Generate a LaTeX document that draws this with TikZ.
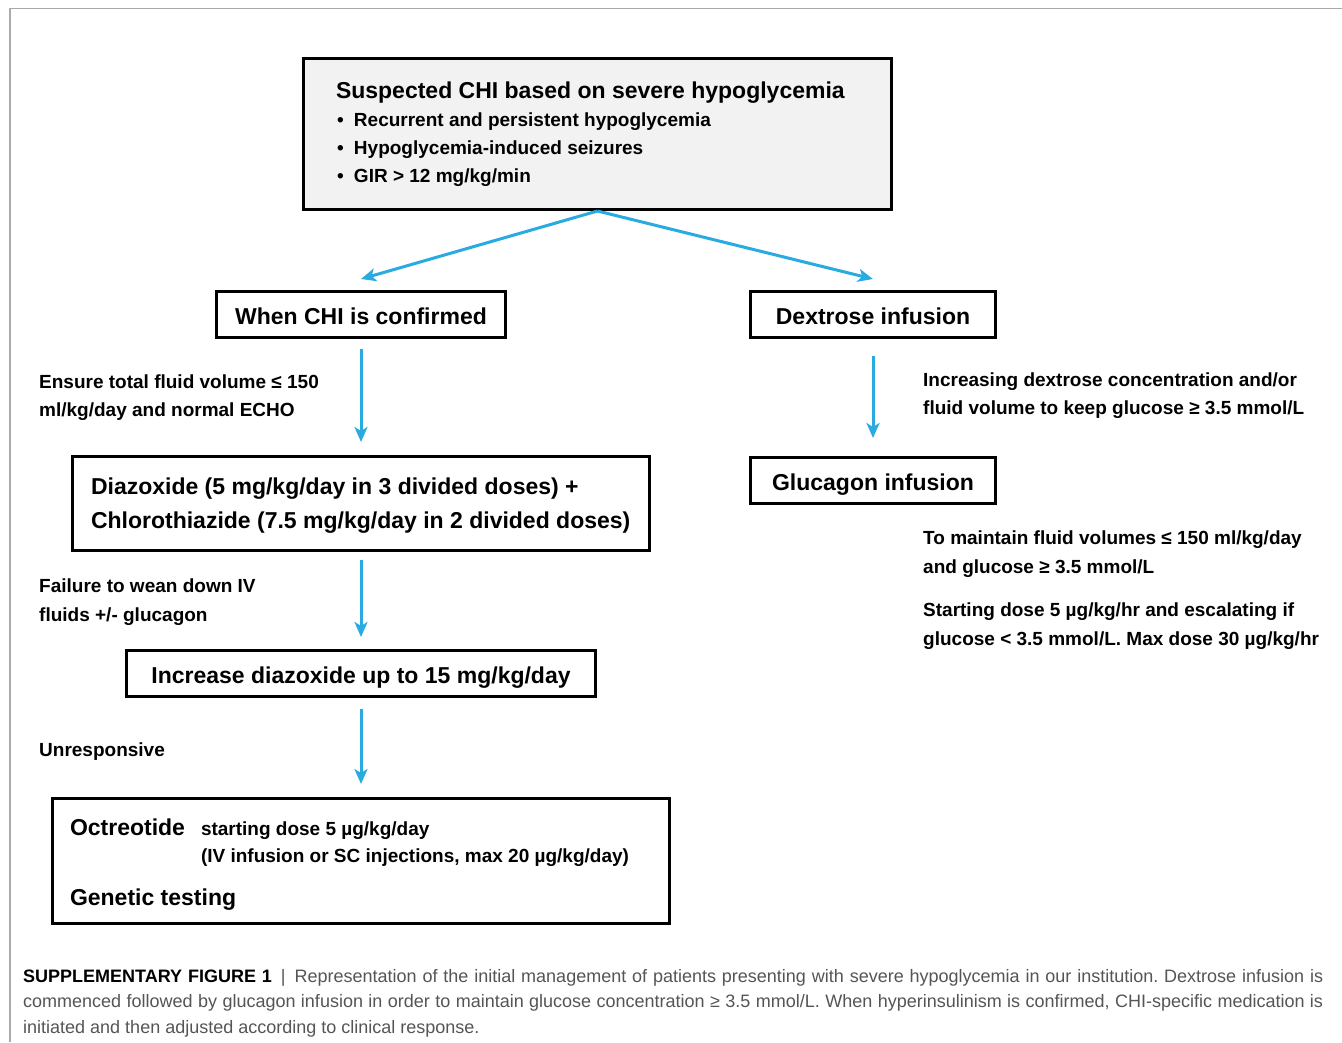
\documentclass[tikz,border=0pt]{standalone}
\usepackage{fontspec}
\setmainfont{Liberation Sans}
\usetikzlibrary{arrows.meta}
\definecolor{arrowblue}{RGB}{41,171,226}
\definecolor{framegray}{RGB}{170,170,170}
\definecolor{capgray}{RGB}{85,85,85}
\definecolor{topfill}{RGB}{242,242,242}
\newcommand\fTitle{\fontsize{23}{27}\selectfont\bfseries}
\newcommand\fLab{\fontsize{19}{23}\selectfont\bfseries}
\newcommand\fCap{\fontsize{18}{25.5}\selectfont}
\newcommand\bul{\makebox[18pt][l]{\hspace{1pt}•}}
\begin{document}
\begin{tikzpicture}[x=1pt,y=-1pt,
  bx/.style={draw=black, line width=3pt, inner sep=0pt},
  sbox/.style={bx, minimum height=46pt, font=\fTitle, text height=19pt, text depth=0pt},
  flow/.style={draw=arrowblue, line width=3pt, -{Stealth[length=15pt,width=13pt,inset=4pt]}},
  lab/.style={anchor=base west, inner sep=0pt, font=\fLab}]
\useasboundingbox (0,0) rectangle (1342,1042);
\fill[white] (0,0) rectangle (1342,1042);
\draw[framegray, line width=1.3pt] (10,1042) -- (10,8.5) -- (1342,8.5);

% top box
\node[bx, fill=topfill, minimum width=588pt, minimum height=151pt] (susp) at (597.5,134)
 {\vtop{\lineskiplimit=-100pt\baselineskip=29pt
   \hbox to 523pt{\fTitle Suspected CHI based on severe hypoglycemia\hfil}
   \baselineskip=28pt
   \hbox to 523pt{\fLab\bul Recurrent and persistent hypoglycemia\hfil}
   \hbox to 523pt{\fLab\bul Hypoglycemia-induced seizures\hfil}
   \hbox to 523pt{\fLab\bul GIR > 12 mg/kg/min\hfil}}};

% left column
\node[sbox, minimum width=289pt] (when) at (361,314.5) {When CHI is confirmed};
\node[bx, minimum width=577pt, minimum height=94pt] (diaz) at (361,503.5)
 {\vtop{\fTitle\lineskiplimit=-100pt\vskip 4pt\baselineskip=34pt
   \hbox to 540pt{Diazoxide (5 mg/kg/day in 3 divided doses) +\hfil}
   \hbox to 540pt{Chlorothiazide (7.5 mg/kg/day in 2 divided doses)\hfil}}};
\node[sbox, minimum width=469pt] (incr) at (361,673.5) {Increase diazoxide up to 15 mg/kg/day};
\node[bx, minimum width=617pt, minimum height=125pt] (oct) at (361,861)
 {\vtop{\lineskiplimit=-100pt\vskip 8pt\baselineskip=27pt
   \hbox to 582pt{\makebox[131pt][l]{\fTitle Octreotide}\fLab starting dose 5 µg/kg/day\hfil}
   \hbox to 582pt{\hspace*{131pt}\fLab (IV infusion or SC injections, max 20 µg/kg/day)\hfil}
   \baselineskip=43pt
   \hbox to 582pt{\fTitle Genetic testing\hfil}}};

% right column
\node[sbox, minimum width=245pt] (dext) at (873,314.5) {Dextrose infusion};
\node[sbox, minimum width=245pt] (gluc) at (873,480.5) {Glucagon infusion};

% labels
\node[lab] (l1) at (39,388) {\vtop{\lineskiplimit=-100pt\baselineskip=28pt
  \hbox{Ensure total fluid volume ≤ 150}\hbox{ml/kg/day and normal ECHO}}};
\node[lab] (l2) at (39,592) {\vtop{\lineskiplimit=-100pt\baselineskip=29pt
  \hbox{Failure to wean down IV}\hbox{fluids +/- glucagon}}};
\node[lab] (l3) at (39,756) {Unresponsive};
\node[lab] (r1) at (923,386) {\vtop{\lineskiplimit=-100pt\baselineskip=28pt
  \hbox{Increasing dextrose concentration and/or}\hbox{fluid volume to keep glucose ≥ 3.5 mmol/L}}};
\node[lab] (r2) at (923,544) {\vtop{\lineskiplimit=-100pt\baselineskip=29pt
  \hbox{To maintain fluid volumes ≤ 150 ml/kg/day}\hbox{and glucose ≥ 3.5 mmol/L}}};
\node[lab] (r3) at (923,616) {\vtop{\lineskiplimit=-100pt\baselineskip=29pt
  \hbox{Starting dose 5 µg/kg/hr and escalating if}\hbox{glucose < 3.5 mmol/L. Max dose 30 µg/kg/hr}}};

% arrows
\draw[flow] (susp.south) -- ([yshift=11pt]when.north);
\draw[flow] (susp.south) -- ([yshift=11pt]dext.north);
\draw[flow] ([yshift=-10pt]when.south) -- ([yshift=13pt]diaz.north);
\draw[flow] ([yshift=-8pt]diaz.south) -- ([yshift=12pt]incr.north);
\draw[flow] ([yshift=-11pt]incr.south) -- ([yshift=13pt]oct.north);
\draw[flow] ([yshift=-17pt]dext.south) -- ([yshift=18pt]gluc.north);

% caption
\node[anchor=base west, inner sep=0pt] (cap) at (23,982)
 {\vtop{\hsize=1300pt\parindent=0pt\fCap\frenchspacing\lineskiplimit=-100pt
  \noindent{\color{black}\bfseries SUPPLEMENTARY FIGURE 1}\color{capgray}\enspace|\enspace Representation of the initial management of patients presenting with severe hypoglycemia in our institution. Dextrose infusion is\linebreak
  commenced followed by glucagon infusion in order to maintain glucose concentration ≥ 3.5 mmol/L. When hyperinsulinism is confirmed, CHI-specific medication is\linebreak
  initiated and then adjusted according to clinical response.\par}};
\end{tikzpicture}
\end{document}
